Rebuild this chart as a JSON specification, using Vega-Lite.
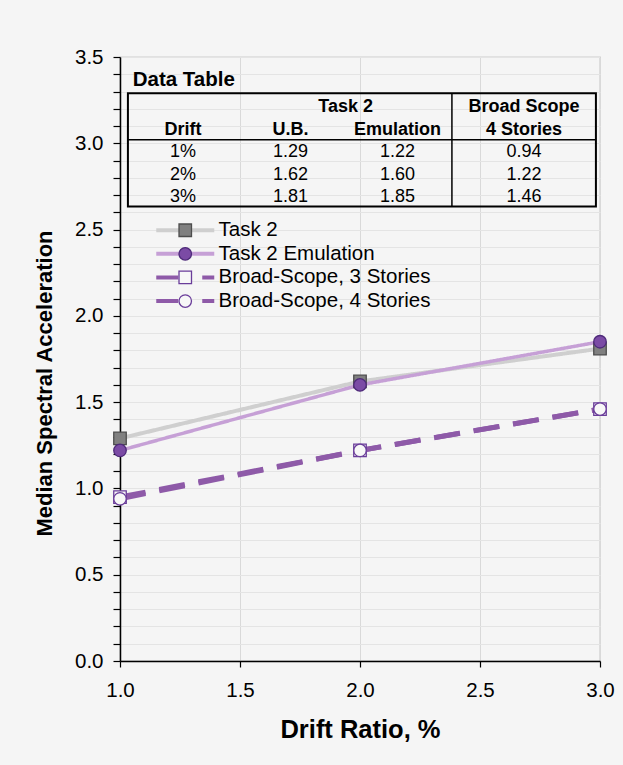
{
  "$schema": "https://vega.github.io/schema/vega-lite/v6.json",
  "width": 480,
  "height": 604,
  "autosize": "none",
  "padding": {"left": 120, "top": 57, "right": 23, "bottom": 104},
  "background": "#f5f5f5",
  "config": {
    "font": "Liberation Sans",
    "view": {"stroke": "#a6a6a6", "strokeWidth": 1.2},
    "axis": {"labelColor": "#000000", "titleColor": "#000000", "domainColor": "#000000", "tickColor": "#000000", "labelFont": "Liberation Sans", "titleFont": "Liberation Sans"},
    "text": {"font": "Liberation Sans", "color": "#000000"}
  },
  "data": {
    "values": [
      {"Drift": 1, "Series": "Task 2", "Value": 1.29},
      {"Drift": 2, "Series": "Task 2", "Value": 1.62},
      {"Drift": 3, "Series": "Task 2", "Value": 1.81},
      {"Drift": 1, "Series": "Task 2 Emulation", "Value": 1.22},
      {"Drift": 2, "Series": "Task 2 Emulation", "Value": 1.60},
      {"Drift": 3, "Series": "Task 2 Emulation", "Value": 1.85},
      {"Drift": 1, "Series": "Broad-Scope, 3 Stories", "Value": 0.95},
      {"Drift": 2, "Series": "Broad-Scope, 3 Stories", "Value": 1.22},
      {"Drift": 3, "Series": "Broad-Scope, 3 Stories", "Value": 1.46},
      {"Drift": 1, "Series": "Broad-Scope, 4 Stories", "Value": 0.94},
      {"Drift": 2, "Series": "Broad-Scope, 4 Stories", "Value": 1.22},
      {"Drift": 3, "Series": "Broad-Scope, 4 Stories", "Value": 1.46}
    ]
  },
  "layer": [
    {
      "layer": [
        {
          "mark": {"type": "line", "strokeCap": "butt", "strokeJoin": "round"},
          "encoding": {
            "x": {
              "field": "Drift", "type": "quantitative",
              "scale": {"domain": [1, 3], "nice": false, "zero": false},
              "axis": {
                "values": [1, 1.5, 2, 2.5, 3], "format": ".1f", "tickCount": 20, "labelFlush": false, "labelOverlap": false,
                "labelFontSize": 20.5, "labelPadding": 13, "tickSize": 6, "domainWidth": 1.5, "tickWidth": 1.2,
                "grid": true, "gridColor": "#d9d9d9", "gridWidth": 1,
                "title": "Drift Ratio, %", "titleFontSize": 25.5, "titleFontWeight": "bold",
                "titleBaseline": "alphabetic", "titleY": 76
              }
            },
            "y": {
              "field": "Value", "type": "quantitative",
              "scale": {"domain": [0, 3.5], "nice": false, "zero": false},
              "axis": {
                "values": [0, 0.1, 0.2, 0.3, 0.4, 0.5, 0.6, 0.7, 0.8, 0.9, 1, 1.1, 1.2, 1.3, 1.4, 1.5, 1.6, 1.7, 1.8, 1.9, 2, 2.1, 2.2, 2.3, 2.4, 2.5, 2.6, 2.7, 2.8, 2.9, 3, 3.1, 3.2, 3.3, 3.4, 3.5],
                "tickCount": 200, "labelOverlap": false, "labelFlush": false,
                "labelExpr": "abs(datum.value * 2 - round(datum.value * 2)) < 0.001 ? format(datum.value, '.1f') : ''",
                "labelFontSize": 20.5, "labelPadding": 10, "tickSize": 7, "domainWidth": 1.5, "tickWidth": 1.2,
                "grid": true, "gridColor": "#e4e4e4", "gridWidth": 1,
                "title": "Median Spectral Acceleration", "titleFontSize": 22, "titleFontWeight": "bold",
                "titleBaseline": "alphabetic", "titleX": -69, "titleY": 326, "titleAlign": "center", "titleAngle": 270
              }
            },
            "stroke": {
              "field": "Series", "type": "nominal",
              "scale": {"domain": ["Task 2", "Task 2 Emulation", "Broad-Scope, 3 Stories", "Broad-Scope, 4 Stories"], "range": ["#cfcfcf", "#c6a0d6", "#8e5aa8", "#8e5aa8"]},
              "legend": {
                "orient": "none", "legendX": 55, "legendY": 163, "title": null, "padding": 0,
                "labelFontSize": 20.5, "labelFont": "Liberation Sans", "labelColor": "#000000", "labelOffset": 23, "labelLimit": 400,
                "rowPadding": 2.6, "symbolOffset": 0,
                "symbolType": "M-5.8,0H5.8", "symbolSize": 100, "symbolStrokeWidth": 4,
                "encode": {"symbols": {"update": {"strokeDash": {"signal": "datum.value === 'Task 2' || datum.value === 'Task 2 Emulation' ? [1, 0] : [22, 24]"}}}}
              }
            },
            "strokeDash": {
              "field": "Series", "type": "nominal",
              "scale": {"domain": ["Task 2", "Task 2 Emulation", "Broad-Scope, 3 Stories", "Broad-Scope, 4 Stories"], "range": [[1, 0], [1, 0], [26, 14], [26, 14]]},
              "legend": null
            },
            "strokeWidth": {
              "field": "Series", "type": "nominal",
              "scale": {"type": "ordinal", "domain": ["Task 2", "Task 2 Emulation", "Broad-Scope, 3 Stories", "Broad-Scope, 4 Stories"], "range": [4, 3.5, 5, 5]},
              "legend": null
            }
          }
        },
        {
          "mark": {"type": "point", "filled": true, "size": 156, "strokeWidth": 1.3, "opacity": 1},
          "encoding": {
            "x": {"field": "Drift", "type": "quantitative"},
            "y": {"field": "Value", "type": "quantitative"},
            "shape": {
              "field": "Series", "type": "nominal",
              "scale": {"domain": ["Task 2", "Task 2 Emulation", "Broad-Scope, 3 Stories", "Broad-Scope, 4 Stories"], "range": ["square", "circle", "square", "circle"]},
              "legend": {
                "orient": "none", "legendX": 55, "legendY": 163, "title": null, "padding": 0,
                "labelFontSize": 20.5, "labelFont": "Liberation Sans", "labelOpacity": 0, "labelOffset": 23, "labelLimit": 400,
                "rowPadding": 2.6, "symbolOffset": 0, "symbolSize": 156, "symbolStrokeWidth": 1.3
              }
            },
            "fill": {
              "field": "Series", "type": "nominal",
              "scale": {"domain": ["Task 2", "Task 2 Emulation", "Broad-Scope, 3 Stories", "Broad-Scope, 4 Stories"], "range": ["#808080", "#7b4ba5", "#f7f7f7", "#f7f7f7"]},
              "legend": {
                "orient": "none", "legendX": 55, "legendY": 163, "title": null, "padding": 0,
                "labelFontSize": 20.5, "labelFont": "Liberation Sans", "labelOpacity": 0, "labelOffset": 23, "labelLimit": 400,
                "rowPadding": 2.6, "symbolOffset": 0, "symbolSize": 156, "symbolStrokeWidth": 1.3
              }
            },
            "stroke": {
              "field": "Series", "type": "nominal",
              "scale": {"domain": ["Task 2", "Task 2 Emulation", "Broad-Scope, 3 Stories", "Broad-Scope, 4 Stories"], "range": ["#4d4d4d", "#4e2a7a", "#6a3d9a", "#6a3d9a"]},
              "legend": {
                "orient": "none", "legendX": 55, "legendY": 163, "title": null, "padding": 0,
                "labelFontSize": 20.5, "labelFont": "Liberation Sans", "labelOpacity": 0, "labelOffset": 23, "labelLimit": 400,
                "rowPadding": 2.6, "symbolOffset": 0, "symbolSize": 156, "symbolStrokeWidth": 1.3
              }
            }
          }
        }
      ],
      "resolve": {"scale": {"stroke": "independent", "fill": "independent", "shape": "independent"}}
    },
    {
      "layer": [
        {
          "transform": [{"filter": "datum.Series === 'Task 2'"}, {"calculate": "datum.Drift + '%'", "as": "DriftLabel"}],
          "mark": {"type": "text", "fontSize": 18, "baseline": "middle", "align": "center"},
          "encoding": {
            "x": {"datum": 1.2625, "type": "quantitative"},
            "y": {"field": "Drift", "type": "quantitative", "scale": {"domain": [-3.244, 23.644], "reverse": true, "nice": false, "zero": false}, "axis": null},
            "text": {"field": "DriftLabel"}
          }
        },
        {
          "transform": [{"filter": "datum.Series === 'Task 2'"}],
          "mark": {"type": "text", "fontSize": 18, "baseline": "middle", "align": "center"},
          "encoding": {
            "x": {"datum": 1.71, "type": "quantitative"},
            "y": {"field": "Drift", "type": "quantitative"},
            "text": {"field": "Value", "format": ".2f"}
          }
        },
        {
          "transform": [{"filter": "datum.Series === 'Task 2 Emulation'"}],
          "mark": {"type": "text", "fontSize": 18, "baseline": "middle", "align": "center"},
          "encoding": {
            "x": {"datum": 2.156, "type": "quantitative"},
            "y": {"field": "Drift", "type": "quantitative"},
            "text": {"field": "Value", "format": ".2f"}
          }
        },
        {
          "transform": [{"filter": "datum.Series === 'Broad-Scope, 4 Stories'"}],
          "mark": {"type": "text", "fontSize": 18, "baseline": "middle", "align": "center"},
          "encoding": {
            "x": {"datum": 2.683, "type": "quantitative"},
            "y": {"field": "Drift", "type": "quantitative"},
            "text": {"field": "Value", "format": ".2f"}
          }
        },
        {
          "data": {"values": [{}]},
          "mark": {"type": "text", "fontSize": 20.5, "fontWeight": "bold", "baseline": "middle", "align": "left", "text": "Data Table"},
          "encoding": {"x": {"datum": 1.053, "type": "quantitative"}, "y": {"datum": -2.22, "type": "quantitative"}}
        },
        {
          "data": {"values": [{}]},
          "mark": {"type": "text", "fontSize": 18, "fontWeight": "bold", "baseline": "middle", "align": "center", "text": "Task 2"},
          "encoding": {"x": {"datum": 1.94, "type": "quantitative"}, "y": {"datum": -1, "type": "quantitative"}}
        },
        {
          "data": {"values": [{}]},
          "mark": {"type": "text", "fontSize": 18, "fontWeight": "bold", "baseline": "middle", "align": "center", "text": "Broad Scope"},
          "encoding": {"x": {"datum": 2.683, "type": "quantitative"}, "y": {"datum": -1, "type": "quantitative"}}
        },
        {
          "data": {"values": [{}]},
          "mark": {"type": "text", "fontSize": 18, "fontWeight": "bold", "baseline": "middle", "align": "center", "text": "Drift"},
          "encoding": {"x": {"datum": 1.2625, "type": "quantitative"}, "y": {"datum": 0, "type": "quantitative"}}
        },
        {
          "data": {"values": [{}]},
          "mark": {"type": "text", "fontSize": 18, "fontWeight": "bold", "baseline": "middle", "align": "center", "text": "U.B."},
          "encoding": {"x": {"datum": 1.71, "type": "quantitative"}, "y": {"datum": 0, "type": "quantitative"}}
        },
        {
          "data": {"values": [{}]},
          "mark": {"type": "text", "fontSize": 18, "fontWeight": "bold", "baseline": "middle", "align": "center", "text": "Emulation"},
          "encoding": {"x": {"datum": 2.156, "type": "quantitative"}, "y": {"datum": 0, "type": "quantitative"}}
        },
        {
          "data": {"values": [{}]},
          "mark": {"type": "text", "fontSize": 18, "fontWeight": "bold", "baseline": "middle", "align": "center", "text": "4 Stories"},
          "encoding": {"x": {"datum": 2.683, "type": "quantitative"}, "y": {"datum": 0, "type": "quantitative"}}
        },
        {
          "data": {"values": [{}]},
          "mark": {"type": "rect", "fill": "transparent", "stroke": "#000000", "strokeWidth": 2},
          "encoding": {
            "x": {"datum": 1.033, "type": "quantitative"}, "x2": {"datum": 2.983},
            "y": {"datum": -1.63, "type": "quantitative"}, "y2": {"datum": 3.41}
          }
        },
        {
          "data": {"values": [{}]},
          "mark": {"type": "rule", "stroke": "#000000", "strokeWidth": 1.5},
          "encoding": {
            "x": {"datum": 1.033, "type": "quantitative"}, "x2": {"datum": 2.983},
            "y": {"datum": 0.444, "type": "quantitative"}
          }
        },
        {
          "data": {"values": [{}]},
          "mark": {"type": "rule", "stroke": "#000000", "strokeWidth": 1.5},
          "encoding": {
            "x": {"datum": 2.383, "type": "quantitative"},
            "y": {"datum": -1.63, "type": "quantitative"}, "y2": {"datum": 3.41}
          }
        }
      ]
    }
  ],
  "resolve": {"scale": {"y": "independent"}}
}
